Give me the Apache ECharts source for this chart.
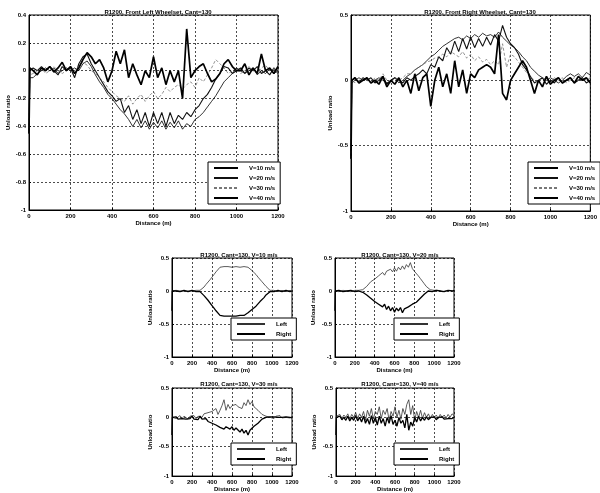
<!DOCTYPE html>
<html>
<head>
<meta charset="utf-8">
<script src="https://cdn.jsdelivr.net/npm/echarts@6/dist/echarts.min.js"></script>
<style>
  html, body { margin: 0; padding: 0; background: #fff; }
  #chart { width: 600px; height: 493px; }
</style>
</head>
<body>
<div id="chart"></div>
<script>
// Sample positions along the curve (m)
const distance = [0, 4,
  20, 40, 60, 80, 100, 120, 140, 160, 180, 200,
  220, 240, 260, 280, 300, 320, 340, 360, 380, 400,
  420, 440, 460, 480, 500, 520, 540, 560, 580, 600,
  620, 640, 660, 680, 700, 720, 740, 760, 780, 800,
  820, 840, 860, 880, 900, 920, 940, 960, 980, 1000,
  1020, 1040, 1060, 1080, 1100, 1120, 1140, 1160, 1180, 1200];

const xTicks = [0, 200, 400, 600, 800, 1000, 1200];
const speedNames = ['V=10 m/s', 'V=20 m/s', 'V=30 m/s', 'V=40 m/s'];
const sideNames = ['Left', 'Right'];

// Front left wheelset, unload ratio per speed
const leftV10 = [-0.45, -0.05,
  -0.05, -0.02, 0.0, 0.02, 0.0, 0.02, -0.02, 0.0, 0.02, 0.0,
  0.02, 0.0, 0.05, 0.07, 0.03, -0.03, -0.08, -0.12, -0.17, -0.2,
  -0.24, -0.28, -0.31, -0.35, -0.4, -0.35, -0.41, -0.36, -0.42, -0.37,
  -0.41, -0.36, -0.42, -0.37, -0.41, -0.36, -0.42, -0.38, -0.4, -0.35,
  -0.33, -0.3, -0.26, -0.22, -0.18, -0.13, -0.08, -0.05, -0.02, 0.02,
  0.0, -0.02, 0.0, 0.02, -0.03, 0.0, -0.02, 0.01, -0.02, 0.0];
const leftV20 = [-0.45, 0.0,
  0.02, 0.0, 0.03, 0.0, 0.03, 0.0, -0.03, 0.03, 0.0, 0.02,
  -0.05, 0.05, 0.1, 0.12, 0.05, 0.0, -0.05, -0.1, -0.15, -0.18,
  -0.22, -0.2, -0.3, -0.25, -0.35, -0.28, -0.38, -0.3, -0.4, -0.3,
  -0.38, -0.3, -0.4, -0.3, -0.38, -0.32, -0.35, -0.3, -0.33, -0.28,
  -0.25, -0.2, -0.17, -0.12, -0.06, -0.02, 0.03, 0.02, -0.02, 0.0,
  0.02, -0.02, 0.02, 0.0, 0.03, -0.02, 0.0, -0.03, 0.02, -0.02];
const leftV30 = [-0.45, -0.03,
  -0.02, 0.0, 0.02, -0.02, 0.0, 0.03, 0.0, -0.02, 0.0, 0.02,
  0.0, 0.03, 0.06, 0.04, 0.0, -0.02, -0.05, -0.08, -0.12, -0.15,
  -0.18, -0.2, -0.22, -0.18, -0.24, -0.2, -0.17, -0.22, -0.18, -0.15,
  -0.2, -0.17, -0.12, -0.15, -0.12, -0.1, -0.13, -0.1, -0.08, -0.12,
  -0.05, -0.08, -0.03, 0.02, 0.08, 0.05, 0.02, -0.02, 0.0, 0.02,
  -0.02, 0.0, 0.03, 0.0, -0.02, 0.02, 0.04, 0.0, 0.02, -0.02];
const leftV40 = [-0.45, 0.02,
  0.0, -0.03, 0.02, 0.0, 0.03, -0.01, 0.02, 0.06, 0.0, 0.03,
  -0.02, 0.02, 0.08, 0.13, 0.1, 0.05, 0.08, 0.02, -0.08, 0.0,
  0.14, 0.05, 0.15, -0.05, 0.05, -0.03, -0.1, 0.0, -0.05, 0.1,
  -0.05, 0.02, -0.1, 0.0, -0.08, 0.0, -0.2, 0.3, -0.05, 0.0,
  0.03, 0.05, -0.02, -0.08, -0.06, -0.02, 0.05, 0.08, 0.03, 0.0,
  0.0, 0.05, -0.03, 0.02, -0.02, 0.12, 0.0, 0.02, -0.02, 0.03];

// Front right wheelset, unload ratio per speed
const rightV10 = [-0.6, -0.02,
  0.0, 0.02, 0.0, 0.02, -0.02, 0.0, 0.02, 0.0, -0.02, 0.0,
  0.02, -0.02, 0.0, 0.03, 0.05, 0.08, 0.1, 0.12, 0.15, 0.18,
  0.2, 0.23, 0.26, 0.28, 0.3, 0.32, 0.33, 0.31, 0.34, 0.32,
  0.35, 0.33, 0.36, 0.34, 0.35, 0.33, 0.37, 0.33, 0.3, 0.27,
  0.25, 0.22, 0.18, 0.15, 0.1, 0.07, 0.04, 0.02, 0.0, 0.02,
  0.0, -0.02, 0.0, 0.03, 0.05, 0.03, 0.05, 0.02, 0.06, 0.04];
const rightV20 = [-0.6, 0.0,
  0.02, -0.02, 0.02, 0.0, 0.02, -0.02, 0.0, 0.03, -0.03, 0.0,
  0.02, 0.0, -0.02, 0.02, 0.0, 0.03, 0.05, 0.08, 0.05, 0.12,
  0.1, 0.18, 0.15, 0.25, 0.2, 0.3, 0.22, 0.32, 0.24, 0.33,
  0.25, 0.32, 0.26, 0.33, 0.27, 0.35, 0.3, 0.42, 0.33, 0.28,
  0.25, 0.2, 0.12, 0.08, 0.03, -0.02, 0.0, 0.02, -0.03, 0.0,
  -0.02, 0.02, -0.02, 0.0, 0.02, -0.02, 0.0, 0.02, -0.02, 0.0];
const rightV30 = [-0.6, 0.0,
  -0.02, 0.0, 0.02, 0.0, -0.02, 0.02, 0.0, 0.05, 0.0, -0.02,
  0.02, 0.0, 0.02, 0.05, 0.05, 0.08, 0.1, 0.12, 0.14, 0.15,
  0.17, 0.18, 0.2, 0.18, 0.22, 0.2, 0.18, 0.22, 0.17, 0.2,
  0.15, 0.18, 0.14, 0.16, 0.12, 0.15, 0.12, 0.28, 0.1, 0.2,
  0.18, 0.14, 0.1, 0.06, 0.03, 0.0, -0.02, 0.02, 0.0, -0.02,
  0.02, 0.0, 0.02, -0.02, 0.0, 0.02, 0.0, 0.03, 0.0, 0.02];
const rightV40 = [-0.6, 0.0,
  0.02, -0.02, 0.0, 0.02, -0.02, 0.0, -0.03, 0.03, -0.05, 0.0,
  -0.03, 0.02, -0.05, 0.0, -0.1, 0.05, -0.08, 0.02, 0.05, -0.2,
  0.0, 0.1, -0.05, 0.05, -0.1, 0.15, -0.05, 0.08, -0.1, 0.05,
  0.02, 0.08, 0.1, 0.12, 0.1, 0.05, 0.35, -0.1, -0.15, 0.0,
  0.05, 0.1, 0.15, 0.1, 0.0, -0.1, 0.0, -0.05, 0.03, -0.03,
  0.0, 0.02, -0.02, 0.0, 0.02, -0.02, 0.03, 0.0, 0.02, -0.02];

// Left / right unload ratio at each speed
const v10Left = [-0.3, 0.0,
  0.0, 0.01, -0.01, 0.0, 0.01, 0.0, -0.01, 0.0, 0.01, 0.0,
  -0.01, 0.01, 0.0, 0.01, 0.03, 0.06, 0.1, 0.13, 0.17, 0.21,
  0.25, 0.29, 0.32, 0.36, 0.34, 0.37, 0.35, 0.37, 0.34, 0.36,
  0.34, 0.37, 0.35, 0.36, 0.34, 0.37, 0.35, 0.36, 0.33, 0.31,
  0.28, 0.25, 0.21, 0.18, 0.14, 0.11, 0.07, 0.04, 0.01, 0.0,
  0.01, 0.0, -0.01, 0.0, 0.01, 0.0, -0.01, 0.0, 0.01, 0.0];
const v10Right = [-0.3, 0.0,
  -0.01, 0.0, 0.01, -0.01, 0.0, 0.01, 0.0, -0.01, 0.0, 0.01,
  0.0, -0.01, 0.0, -0.01, -0.03, -0.07, -0.1, -0.14, -0.17, -0.22,
  -0.26, -0.3, -0.33, -0.37, -0.35, -0.38, -0.35, -0.38, -0.36, -0.38,
  -0.35, -0.38, -0.36, -0.37, -0.34, -0.37, -0.35, -0.33, -0.31, -0.28,
  -0.26, -0.23, -0.2, -0.16, -0.13, -0.1, -0.06, -0.03, -0.01, 0.0,
  -0.01, 0.0, 0.01, 0.0, -0.01, 0.0, 0.01, 0.0, -0.01, 0.0];
const v20Left = [-0.3, 0.0,
  0.01, -0.01, 0.0, 0.01, -0.01, 0.0, 0.02, -0.01, 0.0, 0.01,
  -0.01, 0.01, 0.0, 0.02, 0.04, 0.07, 0.1, 0.14, 0.12, 0.18,
  0.16, 0.23, 0.2, 0.28, 0.24, 0.3, 0.27, 0.33, 0.29, 0.35,
  0.3, 0.36, 0.32, 0.38, 0.33, 0.4, 0.36, 0.43, 0.34, 0.3,
  0.27, 0.23, 0.19, 0.15, 0.11, 0.07, 0.04, 0.02, 0.0, 0.01,
  -0.02, 0.01, 0.0, -0.01, 0.01, 0.0, -0.01, 0.01, 0.0, -0.01];
const v20Right = [-0.3, 0.0,
  -0.01, 0.01, 0.0, -0.01, 0.01, 0.0, -0.01, 0.01, 0.0, -0.01,
  0.01, 0.0, -0.01, -0.02, -0.03, -0.06, -0.08, -0.11, -0.13, -0.16,
  -0.14, -0.2, -0.17, -0.24, -0.2, -0.28, -0.23, -0.3, -0.25, -0.32,
  -0.26, -0.3, -0.25, -0.33, -0.27, -0.3, -0.24, -0.26, -0.2, -0.22,
  -0.17, -0.15, -0.11, -0.08, -0.05, -0.02, 0.0, 0.02, -0.01, 0.0,
  0.01, -0.01, 0.0, 0.01, -0.01, 0.0, 0.01, -0.01, 0.0, 0.01];
const v30Left = [-0.3, 0.0,
  0.02, -0.02, 0.01, 0.03, -0.02, 0.02, 0.0, -0.03, 0.02, 0.0,
  0.03, -0.02, 0.02, 0.05, 0.0, 0.06, 0.03, 0.08, 0.05, 0.1,
  0.07, 0.15, 0.05, 0.12, 0.2, 0.3, 0.12, 0.22, 0.15, 0.2,
  0.17, 0.22, 0.18, 0.2, 0.15, 0.25, 0.2, 0.3, 0.22, 0.27,
  0.18, 0.2, 0.12, 0.1, 0.05, 0.08, 0.02, 0.05, 0.0, 0.03,
  -0.02, 0.02, 0.0, 0.03, -0.01, 0.02, 0.0, 0.02, -0.01, 0.02];
const v30Right = [-0.3, 0.0,
  -0.02, 0.01, -0.03, 0.0, -0.02, 0.01, -0.03, 0.0, -0.02, 0.02,
  -0.03, 0.0, -0.04, 0.02, -0.03, -0.05, -0.02, -0.07, -0.05, -0.1,
  -0.08, -0.13, -0.15, -0.17, -0.14, -0.2, -0.16, -0.18, -0.2, -0.16,
  -0.22, -0.18, -0.2, -0.25, -0.2, -0.27, -0.22, -0.3, -0.22, -0.25,
  -0.15, -0.18, -0.1, -0.08, -0.03, -0.06, 0.0, -0.03, 0.01, -0.02,
  0.01, -0.02, 0.0, -0.03, 0.0, -0.02, 0.01, -0.02, 0.0, -0.01];
const v40Left = [-0.3, 0.02,
  0.0, 0.05, -0.02, 0.04, 0.0, 0.06, -0.03, 0.05, 0.0, 0.08,
  -0.02, 0.06, 0.0, 0.1, -0.05, 0.12, 0.02, 0.15, -0.03, 0.1,
  0.05, 0.18, -0.02, 0.12, 0.05, 0.15, -0.05, 0.1, 0.02, 0.18,
  0.0, 0.12, -0.03, 0.15, 0.05, 0.22, 0.3, 0.05, 0.2, -0.05,
  0.1, 0.0, 0.12, -0.02, 0.08, 0.0, 0.06, -0.02, 0.05, 0.0,
  0.04, -0.02, 0.05, 0.0, 0.04, -0.01, 0.05, 0.0, 0.06, 0.03];
const v40Right = [-0.3, 0.0,
  -0.03, 0.02, -0.04, 0.0, -0.05, 0.02, -0.06, 0.0, -0.05, 0.03,
  -0.06, 0.0, -0.08, 0.02, -0.1, -0.02, -0.12, 0.03, -0.1, 0.0,
  -0.13, 0.02, -0.1, -0.02, -0.15, 0.0, -0.1, 0.03, -0.12, -0.05,
  -0.15, 0.0, -0.1, -0.05, -0.18, 0.05, -0.22, -0.08, -0.15, 0.0,
  -0.08, 0.02, -0.06, 0.0, -0.05, 0.01, -0.04, 0.0, -0.03, 0.01,
  -0.04, 0.0, -0.02, 0.01, -0.03, 0.0, -0.02, 0.01, -0.02, 0.0];

const FONT = 'Liberation Sans, Arial, sans-serif';
const pairs = arr => distance.map((d, i) => [d, arr[i]]);

// Panel boxes (px) and their axis ranges
const panels = [
  { left: 29, top: 15, width: 249, height: 195, yMin: -1, yMax: 0.4, yStep: 0.2, yGap: 17,
    title: 'R1200, Front Left Wheelset, Cant=130', tx: 153, ty: 4 },
  { left: 351, top: 15, width: 247, height: 196, yMin: -1, yMax: 0.5, yStep: 0.5, yGap: 14,
    title: 'R1200, Front Right Wheelset, Cant=130', tx: 475, ty: 4 },
  { left: 172, top: 258, width: 120, height: 99, yMin: -1, yMax: 0.5, yStep: 0.5, yGap: 19,
    title: 'R1200, Cant=130, V=10 m/s', tx: 234, ty: 247 },
  { left: 335, top: 258, width: 119, height: 99, yMin: -1, yMax: 0.5, yStep: 0.5, yGap: 19,
    title: 'R1200, Cant=130, V=20 m/s', tx: 395, ty: 247 },
  { left: 172, top: 388, width: 120, height: 90, yMin: -1, yMax: 0.5, yStep: 0.5, yGap: 19,
    title: 'R1200, Cant=130, V=30 m/s', tx: 234, ty: 376 },
  { left: 336, top: 388, width: 118, height: 89, yMin: -1, yMax: 0.5, yStep: 0.5, yGap: 19,
    title: 'R1200, Cant=130, V=40 m/s', tx: 395, ty: 376 }
];

const gridLine = { show: true, lineStyle: { color: '#000', width: 0.7, type: [2, 2] } };
const small = { fontFamily: FONT, fontSize: 6, color: '#000' };

const grids = panels.map(p => ({
  left: p.left, top: p.top, width: p.width, height: p.height,
  show: true, borderColor: '#000', borderWidth: 1, containLabel: false
}));

const xAxes = panels.map((p, i) => ({
  type: 'value', gridIndex: i, min: xTicks[0], max: xTicks[xTicks.length - 1], interval: 200,
  name: 'Distance (m)', nameLocation: 'middle', nameGap: 9,
  nameTextStyle: Object.assign({ fontWeight: 'bold' }, small),
  axisLine: { show: true, onZero: false, lineStyle: { color: '#000', width: 1 } },
  axisTick: { show: true, inside: true, length: 2, lineStyle: { color: '#000' } },
  axisLabel: Object.assign({ margin: 3, fontWeight: 'bold', formatter: v => String(v) }, small),
  splitLine: gridLine
}));

const yAxes = panels.map((p, i) => ({
  type: 'value', gridIndex: i, min: p.yMin, max: p.yMax, interval: p.yStep,
  name: 'Unload ratio', nameLocation: 'middle', nameGap: p.yGap, nameRotate: 90,
  nameTextStyle: Object.assign({ fontWeight: 'bold' }, small),
  axisLine: { show: true, onZero: false, lineStyle: { color: '#000', width: 1 } },
  axisTick: { show: true, inside: true, length: 2, lineStyle: { color: '#000' } },
  axisLabel: Object.assign({ margin: 3, fontWeight: 'bold',
    formatter: v => String(Math.round(v * 10) / 10) }, small),
  splitLine: gridLine
}));

const speedStyles = [
  { color: '#000', width: 0.8, type: 'solid' },
  { color: '#111', width: 1.1, type: 'solid' },
  { color: '#777', width: 0.8, type: [3, 2] },
  { color: '#000', width: 1.7, type: 'solid' }
];
const sideStyles = [
  { color: '#333', width: 0.8, type: 'solid' },
  { color: '#000', width: 1.3, type: 'solid' }
];

function line(name, data, idx, style) {
  return {
    type: 'line', name: name, data: pairs(data), xAxisIndex: idx, yAxisIndex: idx,
    symbol: 'none', lineStyle: style, itemStyle: { color: style.color },
    animation: false, z: 3
  };
}

const series = [];
[leftV10, leftV20, leftV30, leftV40].forEach((d, k) => series.push(line(speedNames[k], d, 0, speedStyles[k])));
[rightV10, rightV20, rightV30, rightV40].forEach((d, k) => series.push(line(speedNames[k], d, 1, speedStyles[k])));
[[v10Left, v10Right], [v20Left, v20Right], [v30Left, v30Right], [v40Left, v40Right]].forEach((pair, j) => {
  series.push(line(sideNames[0], pair[0], j + 2, sideStyles[0]));
  series.push(line(sideNames[1], pair[1], j + 2, sideStyles[1]));
});

const titles = panels.map(p => ({
  text: p.title, left: p.tx, top: p.ty, textAlign: 'center',
  textStyle: { fontFamily: FONT, fontSize: 6, fontWeight: 'bold', color: '#000' }
}));

function legendBox(names, left, top, w) {
  return {
    data: names, left: left, top: top, orient: 'vertical', selectedMode: false,
    itemWidth: w, itemHeight: 6, itemGap: 4, padding: [3, 5],
    itemStyle: { opacity: 0 },
    backgroundColor: '#fff', borderColor: '#000', borderWidth: 1,
    textStyle: Object.assign({ fontWeight: 'bold', padding: [0, 0, 0, 6] }, small)
  };
}

const legends = [
  legendBox(speedNames, 208, 162, 24),
  legendBox(speedNames, 528, 162, 24),
  legendBox(sideNames, 231, 318, 28),
  legendBox(sideNames, 394, 318, 28),
  legendBox(sideNames, 231, 443, 28),
  legendBox(sideNames, 394, 443, 28)
];

const chart = echarts.init(document.getElementById('chart'));
chart.setOption({
  animation: false,
  backgroundColor: '#fff',
  title: titles,
  legend: legends,
  grid: grids,
  xAxis: xAxes,
  yAxis: yAxes,
  series: series
});
</script>
</body>
</html>
